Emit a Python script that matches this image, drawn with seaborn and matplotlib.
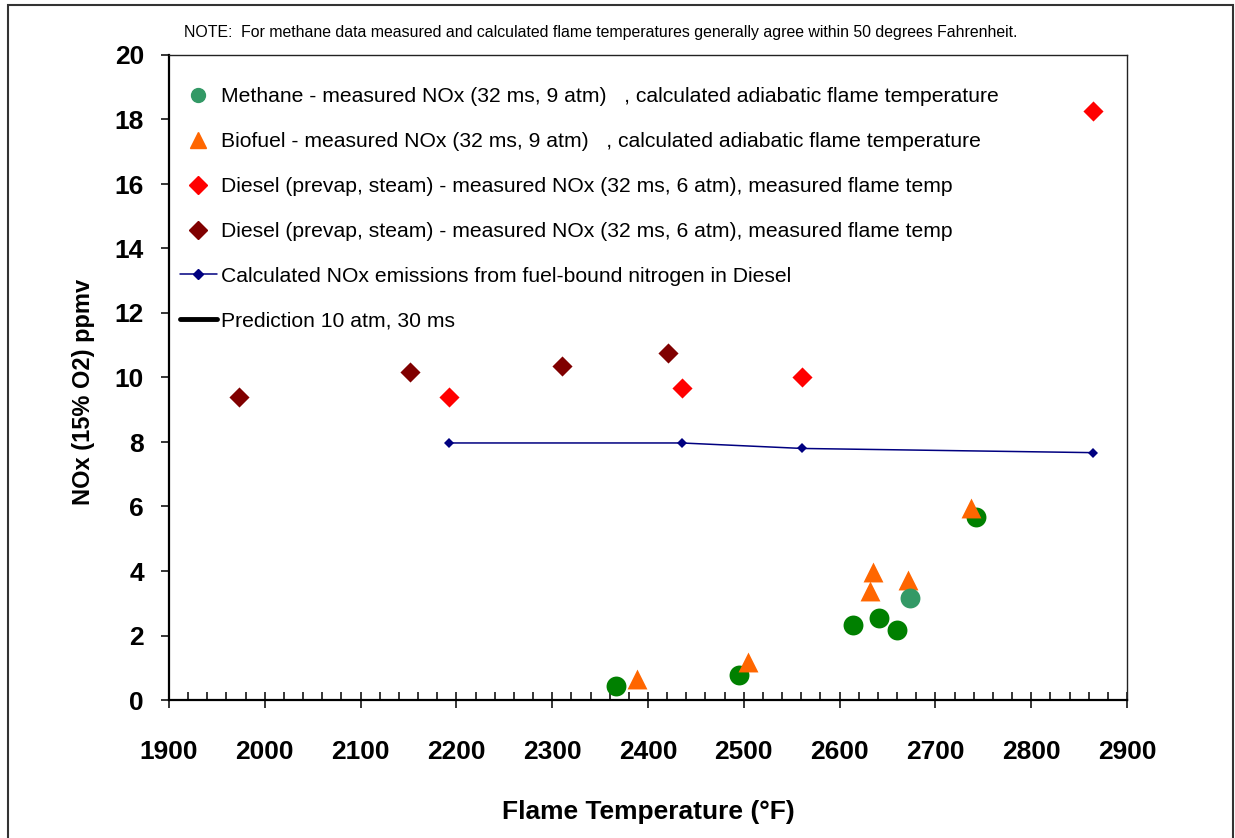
import matplotlib
matplotlib.use("Agg")
import matplotlib.pyplot as plt
import seaborn as sns
from matplotlib.lines import Line2D
from matplotlib.patches import Rectangle
from matplotlib.ticker import MultipleLocator

# methane, measured NOx vs calculated adiabatic flame temperature
methane_t = [2367, 2495, 2614, 2641, 2660, 2742]
methane_nox = [0.42, 0.78, 2.33, 2.53, 2.16, 5.66]
methane2_t = [2674]
methane2_nox = [3.16]

# biofuel
bio_t = [2388, 2504, 2635, 2632, 2671, 2737]
bio_nox = [0.64, 1.19, 3.98, 3.39, 3.71, 5.95]

# diesel (prevap, steam), two series
diesel_a_t = [2192, 2435, 2561, 2864]
diesel_a_nox = [9.38, 9.66, 10.0, 18.26]
diesel_b_t = [1973, 2152, 2310, 2421]
diesel_b_nox = [9.40, 10.17, 10.37, 10.75]

# fuel-bound nitrogen
fbn_t = [2192, 2435, 2561, 2864]
fbn_nox = [7.97, 7.97, 7.80, 7.67]

labels = [
    "Methane - measured NOx (32 ms, 9 atm)   , calculated adiabatic flame temperature",
    "Biofuel - measured NOx (32 ms, 9 atm)   , calculated adiabatic flame temperature",
    "Diesel (prevap, steam) - measured NOx (32 ms, 6 atm), measured flame temp",
    "Diesel (prevap, steam) - measured NOx (32 ms, 6 atm), measured flame temp",
    "Calculated NOx emissions from fuel-bound nitrogen in Diesel",
    "Prediction 10 atm, 30 ms",
]

sns.set_style("white")
plt.rcParams['font.family'] = ['Liberation Sans', 'DejaVu Sans']
plt.rcParams.update({"text.color": "black", "axes.labelcolor": "black",
                     "xtick.color": "black", "ytick.color": "black"})

fig = plt.figure(figsize=(12.35, 8.38), dpi=100)
ax = fig.add_axes([169/1235, 1 - 700/838, (1127-169)/1235, (700-55)/838])

ms = 205
sns.scatterplot(x=methane_t, y=methane_nox, color="#008000", marker="o", s=ms, linewidth=0, ax=ax, zorder=3)
sns.scatterplot(x=bio_t, y=bio_nox, color="#FF6600", marker="^", s=ms, linewidth=0, ax=ax, zorder=4)
sns.scatterplot(x=methane2_t, y=methane2_nox, color="#339966", marker="o", s=ms, linewidth=0, ax=ax, zorder=5)
sns.scatterplot(x=diesel_a_t, y=diesel_a_nox, color="#FF0000", marker="D", s=105, linewidth=0, ax=ax, zorder=4)
sns.scatterplot(x=diesel_b_t, y=diesel_b_nox, color="#800000", marker="D", s=105, linewidth=0, ax=ax, zorder=4)
sns.lineplot(x=fbn_t, y=fbn_nox, color="#000080", marker="D", markersize=5, markeredgewidth=0,
             linewidth=1.1, sort=False, ax=ax, zorder=3)

ax.set_xlim(1900, 2900)
ax.set_ylim(0, 20)
ax.xaxis.set_major_locator(MultipleLocator(100))
ax.xaxis.set_minor_locator(MultipleLocator(20))
ax.yaxis.set_major_locator(MultipleLocator(2))

for s in ["left", "bottom"]:
    ax.spines[s].set_color("black")
    ax.spines[s].set_linewidth(1.6)
for s in ["top", "right"]:
    ax.spines[s].set_color("#222222")
    ax.spines[s].set_linewidth(1.0)

ax.tick_params(axis="x", which="major", direction="inout", length=12, width=1.1, pad=23,
               bottom=True, labelsize=19)
ax.tick_params(axis="x", which="minor", direction="in", length=6, width=1.1, bottom=True)
ax.tick_params(axis="y", which="major", direction="out", length=6, width=1.1, pad=12,
               left=True, labelsize=19)
for lab in ax.get_xticklabels() + ax.get_yticklabels():
    lab.set_fontweight("bold")

ax.set_xlabel("Flame Temperature (°F)", fontsize=19, fontweight="bold", labelpad=26)
ax.set_ylabel("NOx (15% O2) ppmv", fontsize=17, fontweight="bold", labelpad=14)
ax.yaxis.label.set_y(0.4775)

handles = [
    Line2D([], [], linestyle="none", marker="o", color="#339966", markersize=10),
    Line2D([], [], linestyle="none", marker="^", color="#FF6600", markersize=11),
    Line2D([], [], linestyle="none", marker="D", color="#FF0000", markersize=9),
    Line2D([], [], linestyle="none", marker="D", color="#800000", markersize=9),
    Line2D([], [], color="#000080", marker="D", markersize=5, linewidth=1.1),
    Line2D([], [], color="black", linewidth=3.5),
]
ax.legend(handles, labels, loc="upper left", bbox_to_anchor=(180/1235, 1 - 87/838),
          bbox_transform=fig.transFigure, frameon=False, fontsize=15.2, handlelength=1.75,
          handletextpad=0.2, labelspacing=1.23, borderpad=0, borderaxespad=0)

fig.text(184/1235, 1 - 32/838,
         "NOTE:  For methane data measured and calculated flame temperatures generally agree within 50 degrees Fahrenheit.",
         fontsize=11.4, va="center", ha="left")

fig.patches.append(Rectangle((8/1235, -0.01), (1233-8)/1235, 1.01 - 5/838, transform=fig.transFigure,
                             fill=False, edgecolor="#333333", linewidth=1.5))

fig.savefig("out.png", dpi=100)
